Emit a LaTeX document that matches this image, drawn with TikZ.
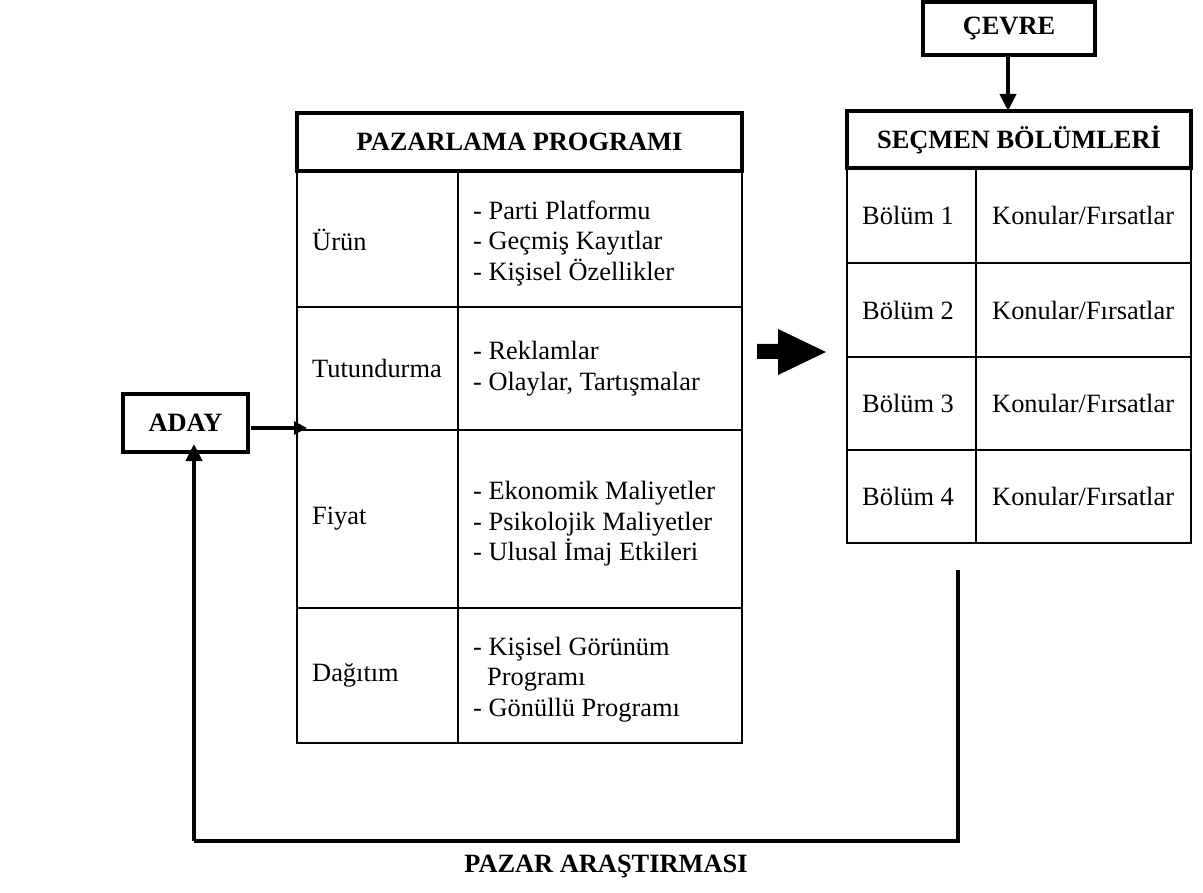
\documentclass[tikz,border=0pt]{standalone}
\usepackage{fontspec}
\setmainfont{Liberation Serif}
\usetikzlibrary{arrows.meta}
\begin{document}
\begin{tikzpicture}[x=1pt,y=-1pt,
  font=\fontsize{26.4}{30.5}\selectfont,
  cell/.style={draw, line width=2.5pt, anchor=north west, outer sep=0pt, inner sep=0pt},
  hdr/.style={draw, line width=4pt, anchor=north west, outer sep=0pt, inner sep=0pt, font=\fontsize{26.4}{30.5}\selectfont\bfseries},
  lbl/.style={anchor=west, align=left, inner sep=0pt},
  box/.style={draw, line width=4pt, outer sep=0pt, inner sep=0pt, font=\fontsize{26.4}{30.5}\selectfont\bfseries},
  conn/.style={line width=4pt, -{Triangle[length=17pt,width=16pt]}},
  fb/.style={line width=4pt}
]
\useasboundingbox (0,0) rectangle (1203,893);
\fill[white] (0,0) rectangle (1203,893);

% ---------- left table ----------
\node[cell, minimum width=161pt, minimum height=135pt] (a1) at (297,172) {};
\node[cell, minimum width=284pt, minimum height=135pt] (b1) at (458,172) {};
\node[cell, minimum width=161pt, minimum height=123pt] (a2) at (297,307) {};
\node[cell, minimum width=284pt, minimum height=123pt] (b2) at (458,307) {};
\node[cell, minimum width=161pt, minimum height=178pt] (a3) at (297,430) {};
\node[cell, minimum width=284pt, minimum height=178pt] (b3) at (458,430) {};
\node[cell, minimum width=161pt, minimum height=135pt] (a4) at (297,608) {};
\node[cell, minimum width=284pt, minimum height=135pt] (b4) at (458,608) {};
\node[hdr, minimum width=445pt, minimum height=58pt] (pp) at (297,113) {PAZARLAMA PROGRAMI};

\node[lbl] (ta1) at ([xshift=15pt]a1.west) {Ürün};
\node[lbl] (tb1) at ([xshift=15pt,yshift=-4pt]b1.west) {- Parti Platformu\\- Geçmiş Kayıtlar\\- Kişisel Özellikler};
\node[lbl] (ta2) at ([xshift=15pt]a2.west) {Tutundurma};
\node[lbl] (tb2) at ([xshift=15pt]b2.west) {- Reklamlar\\- Olaylar, Tartışmalar};
\node[lbl] (ta3) at ([xshift=15pt]a3.west) {Fiyat};
\node[lbl] (tb3) at ([xshift=15pt,yshift=-5pt]b3.west) {- Ekonomik Maliyetler\\- Psikolojik Maliyetler\\- Ulusal İmaj Etkileri};
\node[lbl] (ta4) at ([xshift=15pt]a4.west) {Dağıtım};
\node[lbl] (tb4) at ([xshift=15pt,yshift=-4pt]b4.west) {- Kişisel Görünüm\\\hspace*{14pt}Programı\\- Gönüllü Programı};

% ---------- right table ----------
\node[cell, minimum width=129pt, minimum height=95pt] (s1) at (847,168) {};
\node[cell, minimum width=215pt, minimum height=95pt] (k1) at (976,168) {};
\node[cell, minimum width=129pt, minimum height=94pt] (s2) at (847,263) {};
\node[cell, minimum width=215pt, minimum height=94pt] (k2) at (976,263) {};
\node[cell, minimum width=129pt, minimum height=93pt] (s3) at (847,357) {};
\node[cell, minimum width=215pt, minimum height=93pt] (k3) at (976,357) {};
\node[cell, minimum width=129pt, minimum height=93pt] (s4) at (847,450) {};
\node[cell, minimum width=215pt, minimum height=93pt] (k4) at (976,450) {};
\node[hdr, minimum width=344pt, minimum height=57pt] (sb) at (847,111) {SEÇMEN BÖLÜMLERİ};

\node[lbl] (ts1) at ([xshift=15pt]s1.west) {Bölüm 1};
\node[lbl] (tk1) at ([xshift=16pt]k1.west) {Konular/Fırsatlar};
\node[lbl] (ts2) at ([xshift=15pt]s2.west) {Bölüm 2};
\node[lbl] (tk2) at ([xshift=16pt]k2.west) {Konular/Fırsatlar};
\node[lbl] (ts3) at ([xshift=15pt]s3.west) {Bölüm 3};
\node[lbl] (tk3) at ([xshift=16pt]k3.west) {Konular/Fırsatlar};
\node[lbl] (ts4) at ([xshift=15pt]s4.west) {Bölüm 4};
\node[lbl] (tk4) at ([xshift=16pt]k4.west) {Konular/Fırsatlar};

% ---------- boxes ----------
\node[box, minimum width=172pt, minimum height=53pt] (cevre) at (1009,28.5) {ÇEVRE};
\node[box, minimum width=125pt, minimum height=58pt] (aday) at (185.5,423) {ADAY};

% ---------- connectors ----------
\draw[conn] (cevre.south -| 1008,0) -- (sb.north -| 1008,0);
\coordinate (adayend) at (307,428);
\draw[line width=4pt, -{Triangle[length=13pt,width=13pt]}] ([xshift=3pt]aday.east |- adayend) -- (adayend);

\coordinate (fbstart) at (958,570);
\coordinate (fbleft) at (194,841);
\draw[fb] (fbstart) |- (fbleft);
\draw[conn] (fbleft) -- ([yshift=8pt]aday.south -| fbleft);

% ---------- big block arrow ----------
\fill (757,344) -- (778,344) -- (778,329) -- (826,352) -- (778,375) -- (778,359) -- (757,359) -- cycle;

% ---------- bottom label ----------
\node[font=\fontsize{26.4}{30.5}\selectfont\bfseries, inner sep=0pt] (pa) at (606,866) {PAZAR ARAŞTIRMASI};
\end{tikzpicture}
\end{document}
